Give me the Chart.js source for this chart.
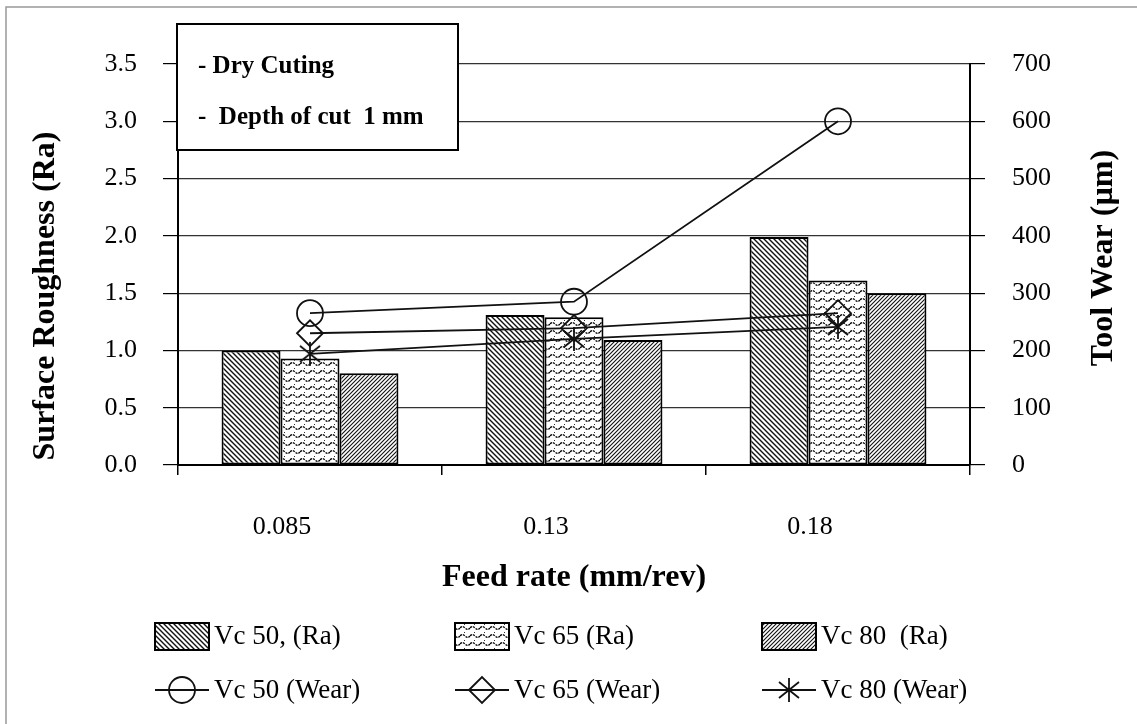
<!DOCTYPE html>
<html>
<head>
<meta charset="utf-8">
<title>Surface roughness and tool wear vs feed rate</title>
<script src="https://cdn.jsdelivr.net/npm/chart.js@4.4.1/dist/chart.umd.min.js"></script>
<style>
  html, body { margin: 0; padding: 0; background: #fff; }
  canvas { display: block; }
</style>
</head>
<body>
<canvas id="chartRa" width="1137" height="724"></canvas>
<script>
  // feed rates and measurements
  const feedRates = ['0.085', '0.13', '0.18'];

  const raVc50 = [1.00, 1.31, 1.99];
  const raVc65 = [0.93, 1.29, 1.61];
  const raVc80 = [0.80, 1.09, 1.50];

  const wearVc50 = [265, 285, 600];
  const wearVc65 = [230, 239, 265];
  const wearVc80 = [194, 220, 241];

  const raLabels = ['Vc 50, (Ra)', 'Vc 65 (Ra)', 'Vc 80  (Ra)'];
  const wearLabels = ['Vc 50 (Wear)', 'Vc 65 (Wear)', 'Vc 80 (Wear)'];
  const noteLines = ['- Dry Cuting', '-  Depth of cut  1 mm'];

  const SERIF = "'Liberation Serif', 'Times New Roman', serif";
  Chart.defaults.font.family = SERIF;
  Chart.defaults.color = '#000';

  /* ---------- hatch fills ---------- */
  function tile(w, h, draw) {
    const c = document.createElement('canvas');
    c.width = w; c.height = h;
    const g = c.getContext('2d');
    g.fillStyle = '#fff';
    g.fillRect(0, 0, w, h);
    g.strokeStyle = '#111';
    draw(g, w, h);
    return document.getElementById('chartRa').getContext('2d').createPattern(c, 'repeat');
  }

  // "\\\" wide diagonal
  const hatchBack = tile(5, 5, (g, s) => {
    g.lineWidth = 1.4;
    g.beginPath();
    g.moveTo(-1, -1); g.lineTo(s + 1, s + 1);
    g.moveTo(-1, s - 1); g.lineTo(1, s + 1);
    g.moveTo(s - 1, -1); g.lineTo(s + 1, 1);
    g.stroke();
  });

  // small dashed waves with dots between
  const hatchWave = tile(10, 8, (g) => {
    g.strokeStyle = '#000';
    g.lineWidth = 1.4;
    g.setLineDash([2.2, 1]);
    g.beginPath();
    g.moveTo(0, 4);
    g.quadraticCurveTo(2.5, 1.2, 5, 4);
    g.quadraticCurveTo(7.5, 6.8, 10, 4);
    g.stroke();
    g.fillStyle = '#333';
    g.fillRect(4, 0, 1, 1);
  });

  // "///" fine diagonal
  const hatchFwd = tile(4, 4, (g, s) => {
    g.lineWidth = 1.1;
    g.beginPath();
    g.moveTo(-1, s + 1); g.lineTo(s + 1, -1);
    g.moveTo(-1, 1); g.lineTo(1, -1);
    g.moveTo(s - 1, s + 1); g.lineTo(s + 1, s - 1);
    g.stroke();
  });

  // asterisk marker: X plus a vertical stroke
  function starMarker() {
    const c = document.createElement('canvas');
    c.width = 28; c.height = 28;
    const g = c.getContext('2d');
    g.strokeStyle = '#111';
    g.lineWidth = 1.8;
    g.beginPath();
    g.moveTo(4, 6); g.lineTo(24, 22);
    g.moveTo(24, 6); g.lineTo(4, 22);
    g.moveTo(14, 2); g.lineTo(14, 26);
    g.stroke();
    return c;
  }
  const STAR = starMarker();

  const barFills = [hatchBack, hatchWave, hatchFwd];
  const markers = [
    { pointStyle: 'circle', radius: 13 },
    { pointStyle: 'rectRot', radius: 13 },
    { pointStyle: STAR, radius: 13 }
  ];

  /* ---------- extra drawing: frame, note box, titles, legend ---------- */
  const decor = {
    id: 'decor',
    beforeDraw(chart) {
      const ctx = chart.ctx;
      ctx.save();
      ctx.fillStyle = '#fff';
      ctx.fillRect(0, 0, chart.width, chart.height);
      ctx.strokeStyle = '#999';
      ctx.lineWidth = 1.5;
      ctx.beginPath();
      ctx.moveTo(6, chart.height); ctx.lineTo(6, 7); ctx.lineTo(chart.width, 7);
      ctx.stroke();
      ctx.restore();
    },
    afterDraw(chart) {
      const ctx = chart.ctx;
      const area = chart.chartArea;
      ctx.save();

      // note box
      ctx.fillStyle = '#fff';
      ctx.fillRect(177, 24, 281, 126);
      ctx.strokeStyle = '#000';
      ctx.lineWidth = 2;
      ctx.strokeRect(177, 24, 281, 126);
      ctx.fillStyle = '#000';
      ctx.font = 'bold 25px ' + SERIF;
      ctx.textAlign = 'left';
      ctx.textBaseline = 'alphabetic';
      ctx.fillText(noteLines[0], 198, 73);
      ctx.fillText(noteLines[1], 198, 124);

      // axis titles
      ctx.font = 'bold 32px ' + SERIF;
      ctx.textAlign = 'center';
      ctx.textBaseline = 'middle';
      ctx.fillText('Feed rate (mm/rev)', (area.left + area.right) / 2, 578);

      ctx.save();
      ctx.translate(46, 296);
      ctx.rotate(-Math.PI / 2);
      ctx.fillText('Surface Roughness (Ra)', 0, 0);
      ctx.restore();

      ctx.save();
      ctx.translate(1104, 258);
      ctx.rotate(-Math.PI / 2);
      ctx.fillText('Tool Wear (\u00b5m)', 0, 0);
      ctx.restore();

      // legend
      const cols = [155, 455, 762];
      const row1 = 636, row2 = 690;
      ctx.font = '27px ' + SERIF;
      ctx.textAlign = 'left';
      ctx.textBaseline = 'middle';
      cols.forEach((x, i) => {
        ctx.fillStyle = barFills[i];
        ctx.fillRect(x, row1 - 13, 54, 27);
        ctx.strokeStyle = '#000';
        ctx.lineWidth = 2;
        ctx.strokeRect(x, row1 - 13, 54, 27);
        ctx.fillStyle = '#000';
        ctx.fillText(raLabels[i], x + 59, row1 + 1);

        ctx.strokeStyle = '#111';
        ctx.lineWidth = 1.8;
        ctx.beginPath();
        ctx.moveTo(x, row2); ctx.lineTo(x + 54, row2);
        ctx.stroke();
        ctx.fillStyle = 'rgba(0,0,0,0)';
        Chart.helpers.drawPoint(ctx, {
          pointStyle: markers[i].pointStyle,
          radius: markers[i].radius,
          rotation: 0,
          borderWidth: 1.8
        }, x + 27, row2);
        ctx.fillStyle = '#000';
        ctx.fillText(wearLabels[i], x + 59, row2 + 1);
      });

      ctx.restore();
    }
  };

  function barSet(label, data, fill) {
    return {
      type: 'bar',
      label: label,
      data: data,
      yAxisID: 'y',
      backgroundColor: fill,
      borderColor: '#000',
      borderWidth: 2,
      borderSkipped: false,
      categoryPercentage: 0.67,
      barPercentage: 1.0,
      order: 1
    };
  }

  function wearSet(label, data, m) {
    return {
      type: 'line',
      label: label,
      data: data,
      yAxisID: 'y1',
      borderColor: '#111',
      borderWidth: 1.8,
      tension: 0,
      pointStyle: m.pointStyle,
      pointRadius: m.radius,
      pointBorderWidth: 1.8,
      pointBorderColor: '#111',
      pointBackgroundColor: 'rgba(0,0,0,0)',
      order: 0
    };
  }

  const tickFont = { size: 26, family: SERIF };

  new Chart(document.getElementById('chartRa'), {
    type: 'bar',
    data: {
      labels: feedRates,
      datasets: [
        barSet(raLabels[0], raVc50, hatchBack),
        barSet(raLabels[1], raVc65, hatchWave),
        barSet(raLabels[2], raVc80, hatchFwd),
        wearSet(wearLabels[0], wearVc50, markers[0]),
        wearSet(wearLabels[1], wearVc65, markers[1]),
        wearSet(wearLabels[2], wearVc80, markers[2])
      ]
    },
    options: {
      responsive: false,
      devicePixelRatio: 1,
      animation: false,
      layout: { padding: { top: 64, left: 0, right: 0, bottom: 0 } },
      plugins: {
        legend: { display: false },
        tooltip: { enabled: false }
      },
      scales: {
        x: {
          offset: true,
          grid: { offset: true, drawOnChartArea: false, drawTicks: true, tickLength: 10, color: '#000', lineWidth: 1.5 },
          border: { color: '#000', width: 2 },
          ticks: { font: tickFont, color: '#000', padding: 37, maxRotation: 0, labelOffset: -28 },
          afterFit: (s) => { s.height = 259; }
        },
        y: {
          position: 'left',
          min: 0,
          max: 3.5,
          grid: { color: '#333', lineWidth: 1.2, tickLength: 15, tickColor: '#000' },
          border: { color: '#000', width: 2 },
          ticks: { stepSize: 0.5, font: tickFont, color: '#000', padding: 26, callback: (v) => v.toFixed(1) },
          afterFit: (s) => { s.width = 178; }
        },
        y1: {
          position: 'right',
          min: 0,
          max: 700,
          grid: { drawOnChartArea: false, tickLength: 15, color: '#000', lineWidth: 1.2 },
          border: { color: '#000', width: 2 },
          ticks: { stepSize: 100, font: tickFont, color: '#000', padding: 27 },
          afterFit: (s) => { s.width = 167; }
        }
      }
    },
    plugins: [decor]
  });
</script>
</body>
</html>
